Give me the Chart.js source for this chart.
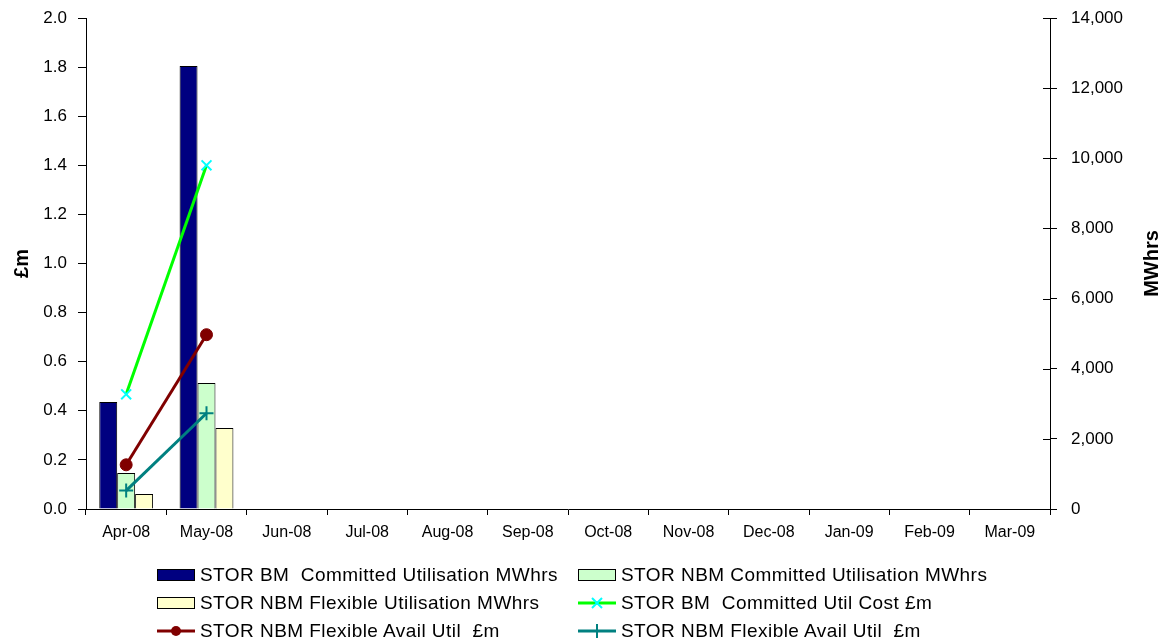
<!DOCTYPE html>
<html>
<head>
<meta charset="utf-8">
<script src="https://cdn.jsdelivr.net/npm/chart.js@4/dist/chart.umd.min.js"></script>
<style>
  html, body { margin: 0; padding: 0; background: #fff; }
  #wrap { position: relative; width: 1170px; height: 641px; }
  #legend {
    position: absolute; left: 157px; top: 564px;
    display: grid; grid-template-columns: 421px 420px; row-gap: 6px;
    font-family: "Liberation Sans", Arial, sans-serif; font-size: 19px; letter-spacing: 0.45px; color: #000;
  }
  .item { display: flex; align-items: center; height: 22px; white-space: pre; }
  .sw { width: 38px; height: 16px; margin-right: 5px; display: flex; align-items: center; flex: none; }
</style>
</head>
<body>
<div id="wrap">
  <canvas id="c" width="1170" height="641"></canvas>
  <div id="legend"></div>
</div>
<script>
// months on the category axis
const months = ["Apr-08", "May-08", "Jun-08", "Jul-08", "Aug-08", "Sep-08",
  "Oct-08", "Nov-08", "Dec-08", "Jan-09", "Feb-09", "Mar-09"];

// bars, MWhrs (right axis)
const bmCommittedMWh = [3050, 12630, null, null, null, null, null, null, null, null, null, null];
const nbmCommittedMWh = [1030, 3590, null, null, null, null, null, null, null, null, null, null];
const nbmFlexibleMWh = [430, 2310, null, null, null, null, null, null, null, null, null, null];

// lines, £m (left axis)
const bmCommittedCost = [0.467, 1.40, null, null, null, null, null, null, null, null, null, null];
const nbmFlexAvailRed = [0.18, 0.71, null, null, null, null, null, null, null, null, null, null];
const nbmFlexAvailTeal = [0.075, 0.39, null, null, null, null, null, null, null, null, null, null];

const FONT = "'Liberation Sans', Arial, sans-serif";

// axis titles, both read bottom-to-top like the original
const axisTitles = {
  id: "axisTitles",
  afterDraw(chart) {
    const { ctx, chartArea: { top, bottom } } = chart;
    const mid = (top + bottom) / 2;
    ctx.save();
    ctx.font = "bold 20px " + FONT;
    ctx.fillStyle = "#000";
    ctx.textAlign = "center";
    ctx.textBaseline = "middle";
    [["£m", 22], ["MWhrs", 1152]].forEach(([txt, x]) => {
      ctx.save();
      ctx.translate(x, mid);
      ctx.rotate(-Math.PI / 2);
      ctx.fillText(txt, 0, 0);
      ctx.restore();
    });
    ctx.restore();
  }
};

// right axis ticks cross the axis line in the original
const crossTicks = {
  id: "crossTicks",
  afterDraw(chart) {
    const { ctx, scales: { y1 } } = chart;
    ctx.save();
    ctx.strokeStyle = "#000";
    ctx.lineWidth = 1;
    ctx.beginPath();
    y1.ticks.forEach((t, i) => {
      const y = Math.round(y1.getPixelForTick(i)) + 0.5;
      ctx.moveTo(y1.left - 7, y);
      ctx.lineTo(y1.left, y);
    });
    ctx.stroke();
    ctx.restore();
  }
};

const bar = (label, data, color) => ({
  type: "bar", label, data, yAxisID: "y1", order: 2,
  backgroundColor: color, borderColor: "#000", borderWidth: 1,
  barPercentage: 1.0, categoryPercentage: 0.67
});

const line = (label, data, color, extra) => Object.assign({
  type: "line", label, data, yAxisID: "y", order: 1,
  borderColor: color, borderWidth: 3, backgroundColor: color,
  pointBackgroundColor: color, pointBorderColor: color, spanGaps: false
}, extra);

const datasets = [
  bar("STOR BM  Committed Utilisation MWhrs", bmCommittedMWh, "#000080"),
  bar("STOR NBM Committed Utilisation MWhrs", nbmCommittedMWh, "#ccffcc"),
  bar("STOR NBM Flexible Utilisation MWhrs", nbmFlexibleMWh, "#ffffcc"),
  line("STOR BM  Committed Util Cost £m", bmCommittedCost, "#00ff00",
    { pointStyle: "crossRot", pointRadius: 7, pointBorderColor: "#00ffff", pointBorderWidth: 2 }),
  line("STOR NBM Flexible Avail Util  £m", nbmFlexAvailRed, "#800000",
    { pointStyle: "circle", pointRadius: 6, pointBorderWidth: 1 }),
  line("STOR NBM Flexible Avail Util  £m", nbmFlexAvailTeal, "#008080",
    { pointStyle: "cross", pointRadius: 7, pointBorderWidth: 2 })
];

const tickFont = { family: FONT, size: 17 };

// pin the value axes so the plot area sits where the original's does
const fitY = (w) => (s) => { s.width = w; s.paddingTop = 0; s.paddingBottom = 0; };

new Chart(document.getElementById("c"), {
  type: "bar",
  data: { labels: months, datasets },
  plugins: [axisTitles, crossTicks],
  options: {
    responsive: false,
    animation: false,
    layout: { padding: { top: 18, left: 0, right: 0, bottom: 0 } },
    plugins: { legend: { display: false }, tooltip: { enabled: false } },
    scales: {
      x: {
        grid: { offset: true, drawOnChartArea: false, tickLength: 6, color: "#000" },
        border: { color: "#000", width: 1 },
        ticks: { color: "#000", font: { family: FONT, size: 16 }, padding: 8, maxRotation: 0 },
        afterFit: (s) => { s.height = 132; s.paddingLeft = 0; s.paddingRight = 0; }
      },
      y: {
        position: "left", min: 0, max: 2,
        grid: { drawOnChartArea: false, tickLength: 8, color: "#000" },
        border: { color: "#000", width: 1 },
        ticks: { stepSize: 0.2, color: "#000", font: tickFont, padding: 11,
          callback: (v) => v.toFixed(1) },
        afterFit: fitY(86)
      },
      y1: {
        position: "right", min: 0, max: 14000,
        grid: { drawOnChartArea: false, tickLength: 7, color: "#000" },
        border: { color: "#000", width: 1 },
        ticks: { stepSize: 2000, color: "#000", font: tickFont, padding: 14,
          callback: (v) => v.toLocaleString("en-US") },
        afterFit: fitY(120)
      }
    }
  }
});

// legend in two columns, built from the datasets
const legend = document.getElementById("legend");
datasets.forEach((d) => {
  const item = document.createElement("div");
  item.className = "item";
  const sw = document.createElement("span");
  sw.className = "sw";
  if (d.type === "bar") {
    const box = document.createElement("span");
    box.style.cssText = "display:block;width:38px;height:12px;box-sizing:border-box;border:1px solid #000;background:" + d.backgroundColor;
    sw.appendChild(box);
  } else {
    const c = document.createElement("canvas");
    c.width = 38; c.height = 16;
    const g = c.getContext("2d");
    g.strokeStyle = d.borderColor; g.lineWidth = 3;
    g.beginPath(); g.moveTo(0, 8); g.lineTo(38, 8); g.stroke();
    g.strokeStyle = d.pointBorderColor; g.fillStyle = d.pointBackgroundColor; g.lineWidth = 2;
    if (d.pointStyle === "circle") {
      g.beginPath(); g.arc(19, 8, 5, 0, Math.PI * 2); g.fill();
    } else if (d.pointStyle === "crossRot") {
      g.beginPath(); g.moveTo(14, 3); g.lineTo(24, 13); g.moveTo(24, 3); g.lineTo(14, 13); g.stroke();
    } else {
      g.beginPath(); g.moveTo(19, 1); g.lineTo(19, 15); g.moveTo(12, 8); g.lineTo(26, 8); g.stroke();
    }
    sw.appendChild(c);
  }
  item.appendChild(sw);
  item.appendChild(document.createTextNode(d.label));
  legend.appendChild(item);
});
</script>
</body>
</html>
